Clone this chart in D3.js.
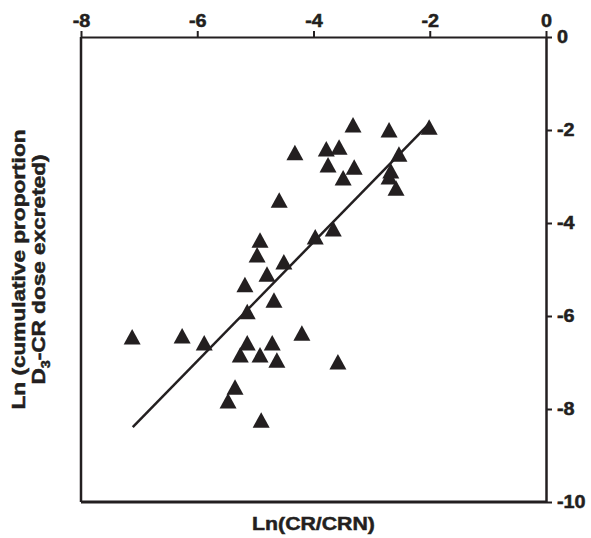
<!DOCTYPE html>
<html>
<head>
<meta charset="utf-8">
<script src="https://cdn.jsdelivr.net/npm/d3@7"></script>
<style>
    body { margin: 0; background: #fff; }
    text { font-family: "Liberation Sans", Arial, sans-serif; font-weight: bold; fill: #231f20; stroke: #231f20; stroke-width: 0.5px; }
</style>
</head>
<body>
<div id="grafico"></div>
<script>
// Datos
const lnCrCrn = [-7.12, -6.26, -5.88, -5.47, -5.35, -4.90, -5.26, -5.14, -4.92, -4.71, -4.63, -4.20,
    -3.58, -5.14, -5.18, -4.68, -4.80, -4.97, -4.92, -4.51, -4.59, -4.32, -3.97, -3.66,
    -3.78, -3.75, -3.56, -3.30, -3.49, -3.32, -2.70, -2.67, -2.70, -2.58, -2.53, -2.01]
const lnExcretado = [-6.45, -6.43, -6.58, -7.83, -7.53, -8.24, -6.84, -6.58, -6.84, -6.58, -6.95, -6.37,
    -6.99, -5.91, -5.33, -5.66, -5.10, -4.69, -4.37, -4.84, -3.51, -2.49, -4.30, -4.13,
    -2.41, -2.75, -2.37, -2.80, -3.03, -1.89, -2.00, -2.88, -3.01, -3.25, -2.52, -1.94]

// Recta de regresion (extremos)
const rectaX = [-7.11, -2.00]
const rectaY = [-8.39, -1.85]

const ticksX = [-8, -6, -4, -2, 0]
const ticksY = [0, -2, -4, -6, -8, -10]

const tituloX = "Ln(CR/CRN)"
const tituloY1 = "Ln (cumulative proportion"
const tituloY2 = ["D", "3", "-CR dose excreted)"]

// Medidas
const width = 591, height = 538
const margin = { top: 37, right: 45, bottom: 36, left: 81 }
const negro = "#231f20"

const svg = d3.select('#grafico')
    .append('svg')
    .attr('width', width)
    .attr('height', height)

const x = d3.scaleLinear()
    .domain([-8, 0])
    .range([margin.left, width - margin.right])

const y = d3.scaleLinear()
    .domain([0, -10])
    .range([margin.top, height - margin.bottom])

// Marco izquierdo e inferior
svg.append('line')
    .attr('x1', x(-8)).attr('x2', x(-8))
    .attr('y1', y(0)).attr('y2', y(-10))
    .attr('stroke', negro).attr('stroke-width', 2.5)
svg.append('line')
    .attr('x1', x(-8)).attr('x2', x(0))
    .attr('y1', y(-10)).attr('y2', y(-10))
    .attr('stroke', negro).attr('stroke-width', 3)

// Estilo comun de las etiquetas de los ejes
function estiloEtiquetas(sel) {
    sel.style('font-family', '"Liberation Sans", Arial, sans-serif')
        .style('font-weight', 'bold')
        .style('font-size', '18px')
        .attr('fill', negro)
}

// Eje X arriba
const ejeX = svg.append('g')
    .attr('transform', `translate(0, ${y(0)})`)
    .call(d3.axisTop(x).tickValues(ticksX).tickSize(6).tickSizeOuter(0))
ejeX.select('.domain').attr('stroke', negro).attr('stroke-width', 2)
ejeX.selectAll('.tick line').attr('stroke', negro).attr('stroke-width', 2)
ejeX.selectAll('.tick text')
    .attr('y', -10)
    .attr('transform', 'scale(1.1,1)')
    .call(estiloEtiquetas)
    .text(d => String(d))

// Eje Y a la derecha
const ejeY = svg.append('g')
    .attr('transform', `translate(${x(0)}, 0)`)
    .call(d3.axisRight(y).tickValues(ticksY).tickSize(6).tickSizeOuter(0))
ejeY.select('.domain').attr('stroke', negro).attr('stroke-width', 2.5)
ejeY.selectAll('.tick line').attr('stroke', negro).attr('stroke-width', 2)
ejeY.selectAll('.tick text')
    .attr('x', 10)
    .attr('transform', 'scale(1.1,1)')
    .call(estiloEtiquetas)
    .text(d => String(d))

// Recta
svg.append('line')
    .attr('x1', x(rectaX[0])).attr('y1', y(rectaY[0]))
    .attr('x2', x(rectaX[1])).attr('y2', y(rectaY[1]))
    .attr('stroke', negro)
    .attr('stroke-width', 2.5)

// Triangulos
const triangulo = 'M0,-8L8.5,7.5L-8.5,7.5Z'
svg.selectAll('path.punto')
    .data(d3.zip(lnCrCrn, lnExcretado))
    .join('path')
    .attr('class', 'punto')
    .attr('d', triangulo)
    .attr('transform', d => `translate(${x(d[0])}, ${y(d[1])})`)
    .attr('fill', negro)

// Titulos
svg.append('text')
    .attr('transform', `translate(${(x(-8) + x(0)) / 2}, 530) scale(1.12,1)`)
    .attr('text-anchor', 'middle')
    .attr('font-size', 19)
    .text(tituloX)

const cy = (y(0) + y(-10)) / 2
svg.append('text')
    .attr('transform', `translate(25, ${cy}) rotate(-90) scale(1.19,1)`)
    .attr('text-anchor', 'middle')
    .attr('font-size', 19)
    .text(tituloY1)

const t2 = svg.append('text')
    .attr('transform', `translate(45, ${cy}) rotate(-90) scale(1.19,1)`)
    .attr('text-anchor', 'middle')
    .attr('font-size', 19)
t2.append('tspan').text(tituloY2[0])
t2.append('tspan').attr('font-size', 12).attr('dy', 5).text(tituloY2[1])
t2.append('tspan').attr('dy', -5).text(tituloY2[2])
</script>
</body>
</html>
